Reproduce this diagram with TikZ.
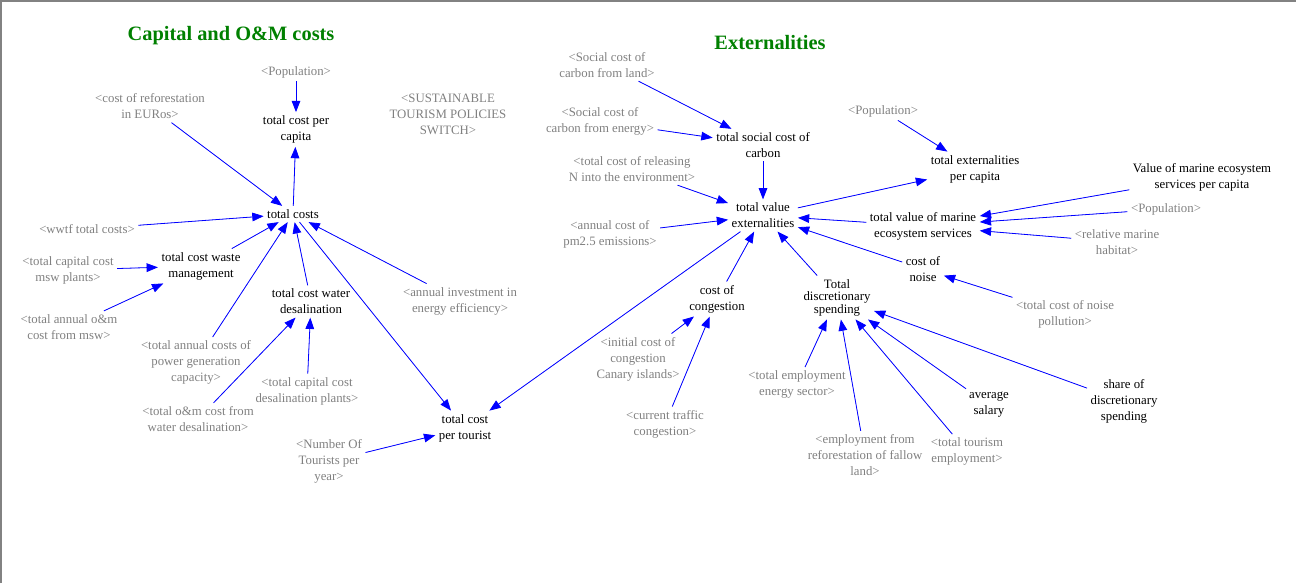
\documentclass[tikz,border=0pt]{standalone}
\usepackage{fontspec}
\setmainfont{Liberation Serif}
\usetikzlibrary{arrows.meta}
\definecolor{linkblue}{RGB}{0,0,255}
\definecolor{shadowgray}{RGB}{128,128,128}
\definecolor{headgreen}{RGB}{0,128,0}
\definecolor{framegray}{RGB}{130,130,130}
\tikzset{
  var/.style={align=center, inner sep=2.5pt, font=\fontsize{9.6}{12}\selectfont, text=black},
  shadow/.style={var, text=shadowgray},
  heading/.style={inner sep=0pt, font=\fontsize{15.3}{18}\selectfont\bfseries, text=headgreen},
  link/.style={-{Triangle[length=8.5pt, width=6.5pt]}, draw=linkblue, fill=linkblue, line width=0.6pt},
}

\begin{document}
\begin{tikzpicture}[x=0.75pt, y=-0.75pt]
  \useasboundingbox (0,0) rectangle (1296,583);
  \draw[framegray, line width=1.5pt] (1,583) -- (1,1) -- (1296,1);

  % capital and O&M costs
  \node[heading] (capTitle) at (231,36) {Capital and O\&M costs};
  \node[shadow] (popL) at (296,72) {<Population>};
  \node[shadow] (reforest) at (150,106.5) {<cost of reforestation\\in EURos>};
  \node[var] (tcpc) at (296,129.5) {total cost per\\capita};
  \node[shadow] (switch) at (448,114.5) {<SUSTAINABLE\\TOURISM POLICIES\\SWITCH>};
  \node[var] (tcosts) at (293,214) {total costs};
  \node[shadow] (wwtf) at (87,229) {<wwtf total costs>};
  \node[var] (tcwaste) at (201,266) {total cost waste\\management};
  \node[shadow] (capmsw) at (68,270) {<total capital cost\\msw plants>};
  \node[shadow] (omsw) at (69,327) {<total annual o\&m\\cost from msw>};
  \node[var] (tcwater) at (311,301.5) {total cost water\\desalination};
  \node[shadow] (invest) at (460,301) {<annual investment in\\energy efficiency>};
  \node[shadow] (powergen) at (196,362.5) {<total annual costs of\\power generation\\capacity>};
  \node[shadow] (capdesal) at (307,391) {<total capital cost\\desalination plants>};
  \node[shadow] (omdesal) at (198,419) {<total o\&m cost from\\water desalination>};
  \node[var] (tcpt) at (465,428) {total cost\\per tourist};
  \node[shadow] (tourists) at (329,461.5) {<Number Of\\Tourists per\\year>};

  \draw[link] (popL) -- (tcpc);
  \draw[link] (reforest) -- (tcosts);
  \draw[link] (tcosts) -- (tcpc);
  \draw[link] (wwtf) -- (tcosts);
  \draw[link] (tcwaste) -- (tcosts);
  \draw[link] (capmsw) -- (tcwaste);
  \draw[link] (omsw) -- (tcwaste);
  \draw[link] (powergen) -- (tcosts);
  \draw[link] (tcwater) -- (tcosts);
  \draw[link] (invest) -- (tcosts);
  \draw[link] (tcosts) -- (tcpt);
  \draw[link] (omdesal) -- (tcwater);
  \draw[link] (capdesal) -- (tcwater);
  \draw[link] (tourists) -- (tcpt);

  % externalities
  \node[heading] (extTitle) at (770,43) {Externalities};
  \node[shadow] (sccland) at (607,65) {<Social cost of\\carbon from land>};
  \node[shadow] (sccenergy) at (600,121.5) {<Social cost of\\carbon from energy>};
  \node[var] (tscc) at (763,145) {total social cost of\\carbon};
  \node[shadow] (releaseN) at (632,169) {<total cost of releasing\\N into the environment>};
  \node[var] (tve) at (763,215.5) {total value\\externalities};
  \node[shadow] (pm25) at (610,234) {<annual cost of\\pm2.5 emissions>};
  \node[shadow] (popR) at (883,111) {<Population>};
  \node[var] (tepc) at (975,169) {total externalities\\per capita};
  \node[var] (vmes) at (1202,177) {Value of marine ecosystem\\services per capita};
  \node[shadow] (popM) at (1166,209) {<Population>};
  \node[var] (tvmes) at (923,226) {total value of marine\\ecosystem services};
  \node[shadow] (relhab) at (1117,242) {<relative marine\\habitat>};
  \node[var] (noise) at (923,269) {cost of\\noise};
  \node[shadow] (noisepol) at (1065,314) {<total cost of noise\\pollution>};
  \node[var, font=\fontsize{9.6}{9.4}\selectfont] (tds) at (837,297.5) {Total\\discretionary\\spending};
  \node[var] (congest) at (717,299) {cost of\\congestion};
  \node[shadow] (initcong) at (638,359) {<initial cost of\\congestion\\Canary islands>};
  \node[shadow] (traffic) at (665,424) {<current traffic\\congestion>};
  \node[shadow] (empenergy) at (797,384.5) {<total employment\\energy sector>};
  \node[shadow] (empreforest) at (865,455) {<employment from\\reforestation of fallow\\land>};
  \node[shadow] (emptourism) at (967,451.5) {<total tourism\\employment>};
  \node[var] (salary) at (989,405) {average\\salary};
  \node[var] (share) at (1124,401.5) {share of\\discretionary\\spending};

  \draw[link] (sccland) -- (tscc);
  \draw[link] (sccenergy) -- (tscc);
  \draw[link] (tscc) -- (tve);
  \draw[link] (releaseN) -- (tve);
  \draw[link] (pm25) -- (tve);
  \draw[link] (tve) -- (tepc);
  \draw[link] (popR) -- (tepc);
  \draw[link] (tvmes) -- (tve);
  \draw[link] (vmes) -- (tvmes);
  \draw[link] (popM) -- (tvmes);
  \draw[link] (relhab) -- (tvmes);
  \draw[link] (noise) -- (tve);
  \draw[link] (noisepol) -- (noise);
  \draw[link] (tds) -- (tve);
  \draw[link] (congest) -- (tve);
  \draw[link] (tve) -- (tcpt);
  \draw[link] (initcong) -- (congest);
  \draw[link] (traffic) -- (congest);
  \draw[link] (empenergy) -- (tds);
  \draw[link] (empreforest) -- (tds);
  \draw[link] (emptourism) -- (tds);
  \draw[link] (salary) -- (tds);
  \draw[link] (share) -- (tds);
\end{tikzpicture}
\end{document}
